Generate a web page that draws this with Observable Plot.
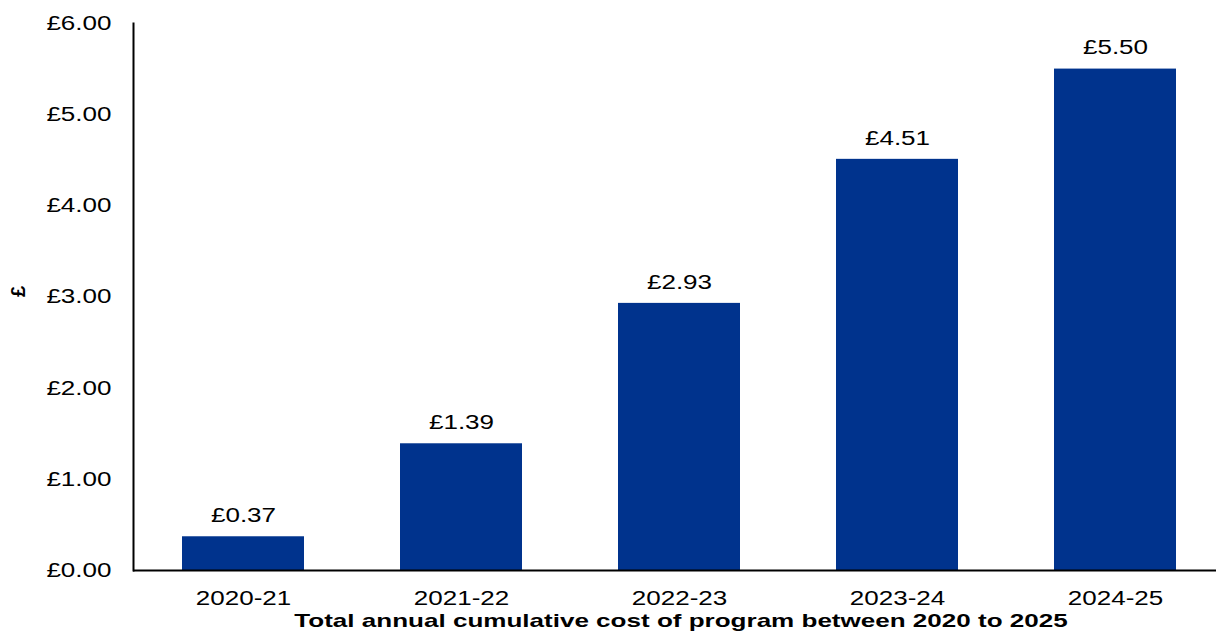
<!DOCTYPE html>
<html>
<head>
<meta charset="utf-8">
<script src="https://cdn.jsdelivr.net/npm/d3@7"></script>
<script src="https://cdn.jsdelivr.net/npm/@observablehq/plot@0.6"></script>
<style>
  html, body { margin: 0; padding: 0; background: #fff; }
</style>
</head>
<body>
<div id="chart"></div>
<script>
const years = ["2020-21", "2021-22", "2022-23", "2023-24", "2024-25"];
const costs = [0.37, 1.39, 2.93, 4.51, 5.50];
const yTicks = [0, 1, 2, 3, 4, 5, 6];
const xTitle = "Total annual cumulative cost of program between 2020 to 2025";
const yTitle = "£";

const data = years.map((y, i) => ({year: y, cost: costs[i]}));
const fmt = v => "£" + v.toFixed(2);

const chart = Plot.plot({
  width: 1216,
  height: 632,
  marginTop: 23,
  marginBottom: 62,
  marginLeft: 133,
  marginRight: 0,
  style: {fontFamily: "'Liberation Sans', Arial, sans-serif", fontSize: "20px", color: "#000", background: "#fff"},
  x: {domain: years, range: [133, 1225], paddingInner: 0.44, paddingOuter: 0.22},
  y: {domain: [0, 6], range: [570, 23]},
  marks: [
    Plot.barY(data, {x: "year", y: "cost", fill: "#00338d"}),
    Plot.ruleY([0], {stroke: "#000", strokeWidth: 2}),
    Plot.frame({anchor: "left", stroke: "#000", strokeWidth: 2}),
    Plot.axisY(yTicks, {tickSize: 0, tickPadding: 22, tickFormat: fmt, label: null}),
    Plot.axisX({tickSize: 0, tickPadding: 20, label: null}),
    Plot.text(data, {x: "year", y: "cost", text: d => fmt(d.cost), dy: -21, lineAnchor: "middle", fontSize: 20}),
    Plot.text([xTitle], {frameAnchor: "bottom", dy: 50, dx: 6, lineAnchor: "middle", fontWeight: "bold", fontSize: 19, className: "xtitle"}),
    Plot.text([yTitle], {frameAnchor: "left", dx: -115, rotate: -90, fontWeight: "bold", fontSize: 20, className: "ytitle"})
  ]
});
document.getElementById("chart").appendChild(chart);

// widen glyphs horizontally (reference text is rendered stretched)
d3.select(chart).selectAll("text").each(function() {
  if (this.closest(".ytitle")) return;
  const len = this.getComputedTextLength();
  const k = this.closest(".xtitle") ? 1.37 : 1.3;
  this.setAttribute("textLength", (len * k).toFixed(1));
  this.setAttribute("lengthAdjust", "spacingAndGlyphs");
});
</script>
</body>
</html>
